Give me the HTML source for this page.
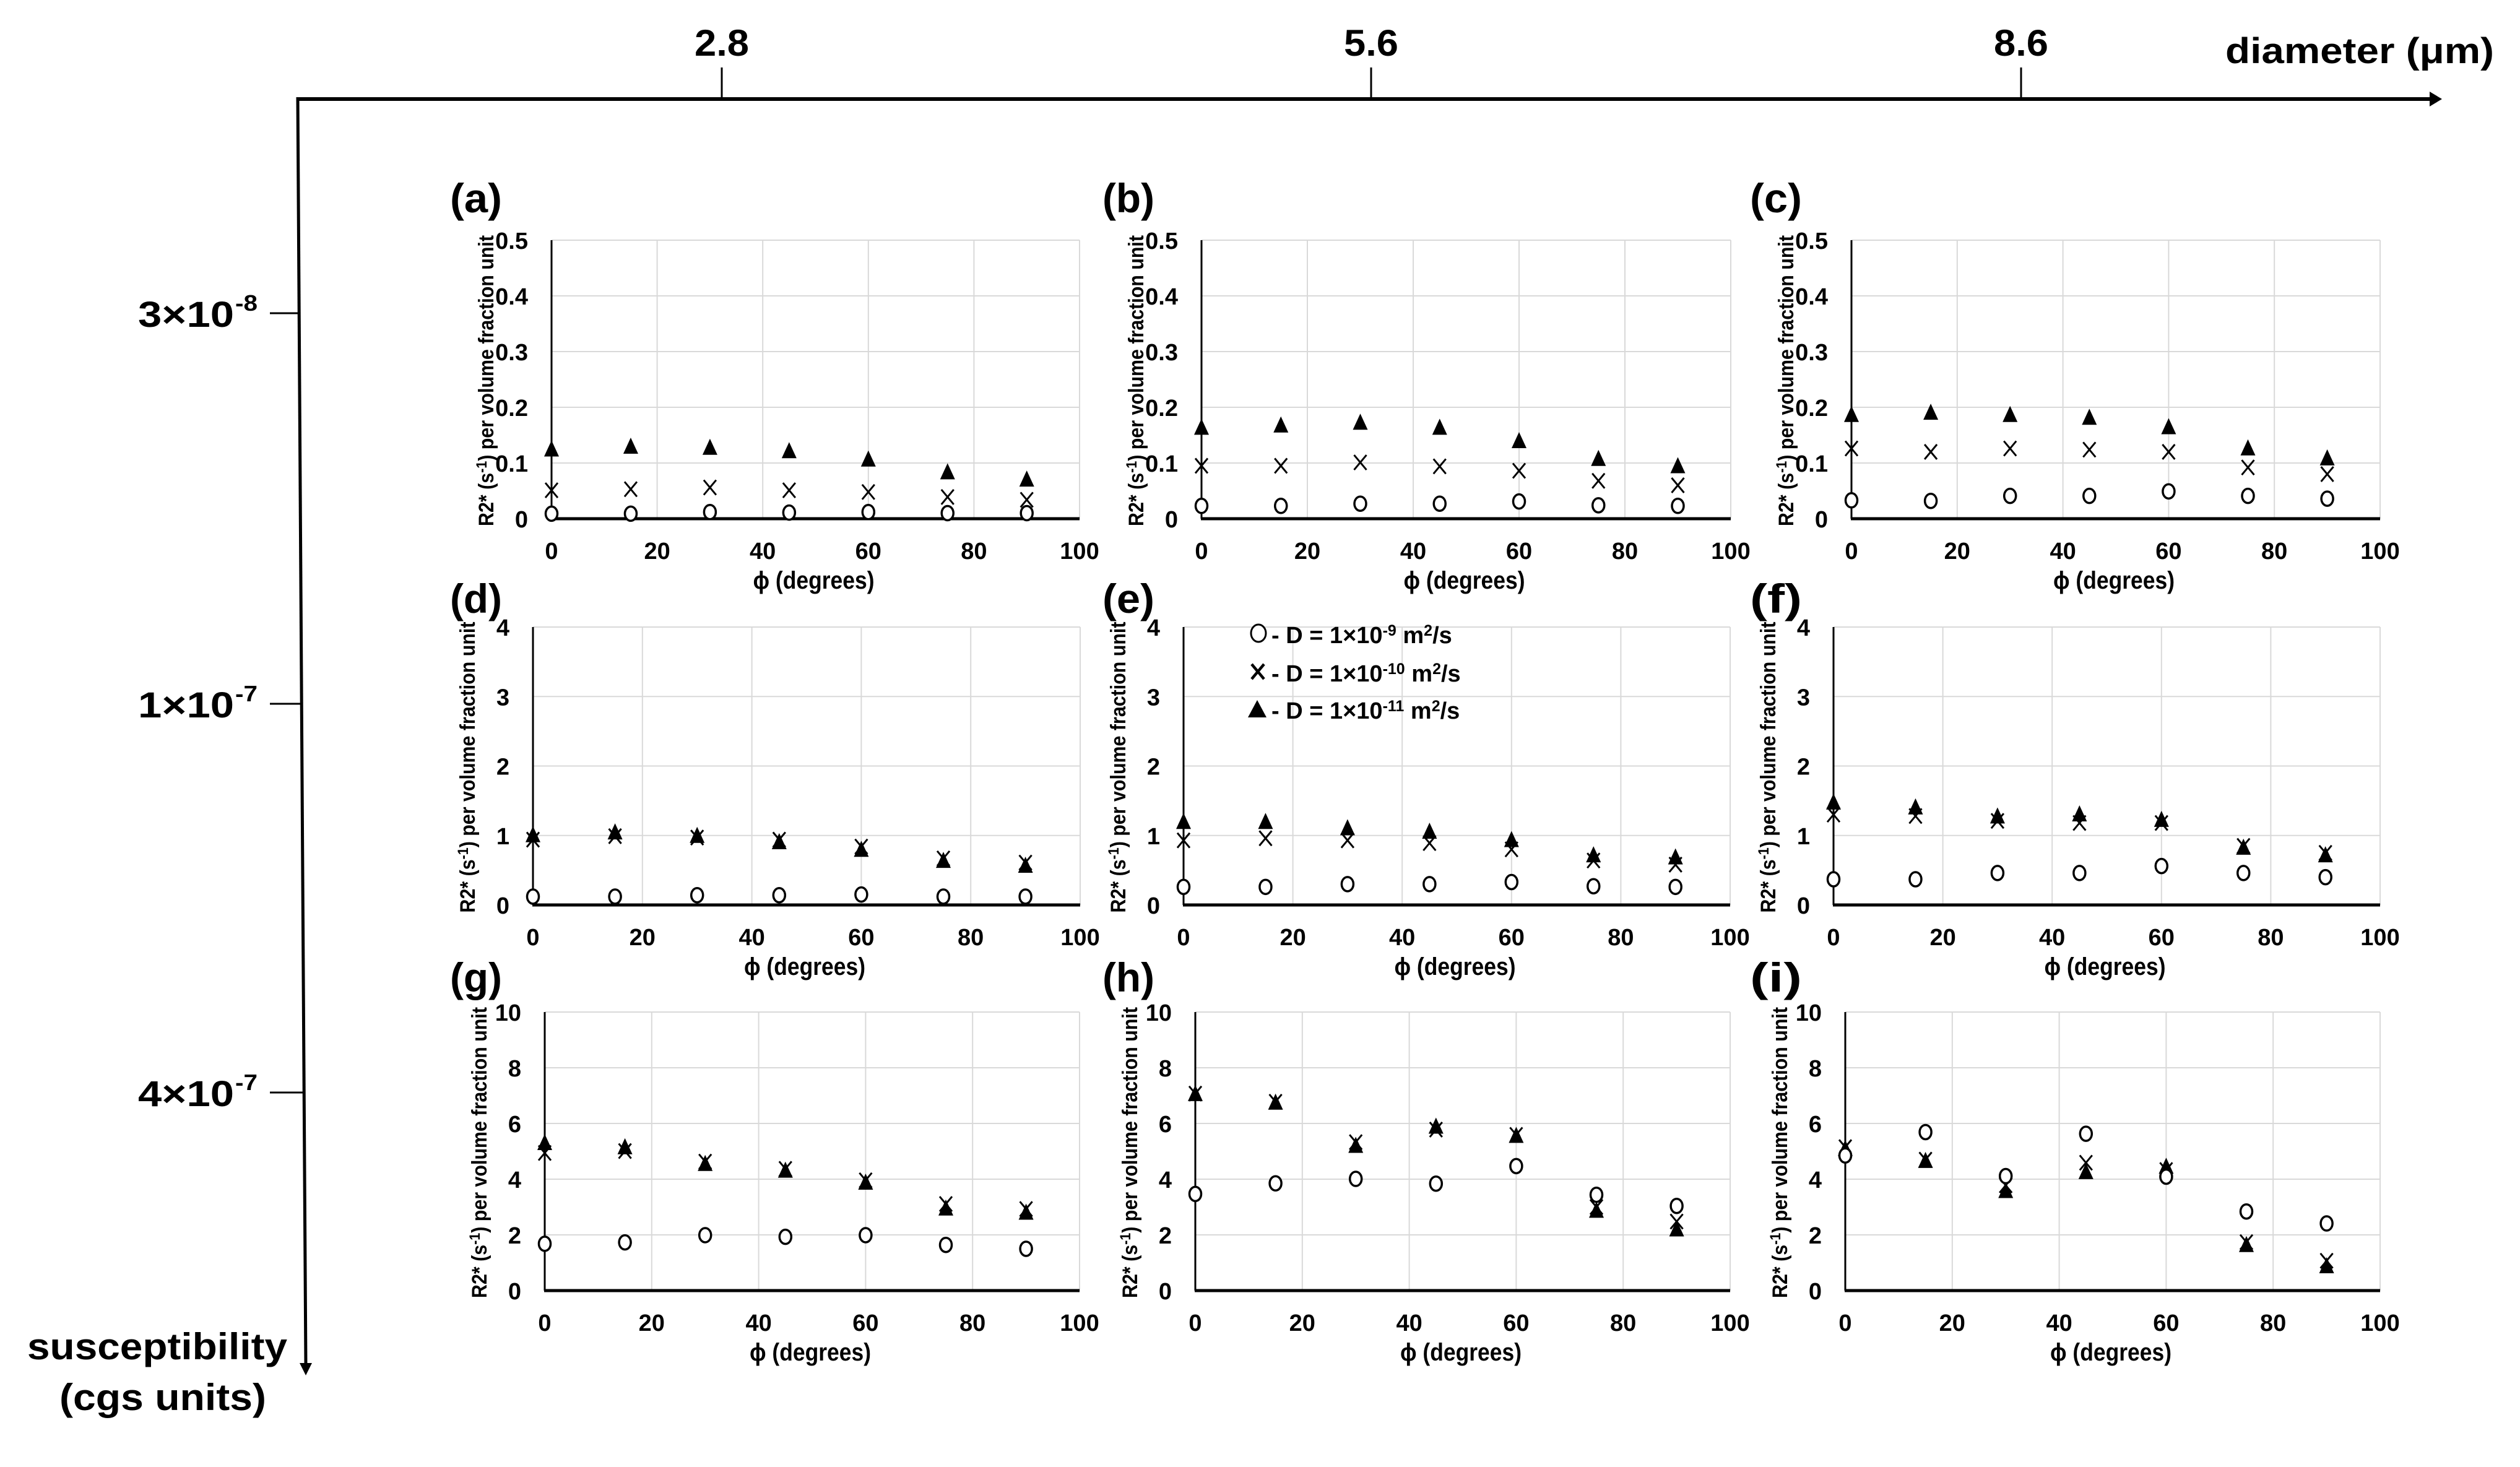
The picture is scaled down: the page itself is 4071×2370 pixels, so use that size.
<!DOCTYPE html>
<html><head><meta charset="utf-8"><title>R2* vs phi panels</title>
<style>
html,body{margin:0;padding:0;background:#fff;}
svg{display:block;font-family:"Liberation Sans",sans-serif;}
</style></head>
<body>
<svg id="fig" xmlns="http://www.w3.org/2000/svg" width="4071" height="2370" viewBox="0 0 4071 2370">
<rect x="0" y="0" width="4071" height="2370" fill="#fff"/>
<g id="outer"></g>
<g id="panels"></g>
</svg>
<script>
// ---- data ----
const phi = [0, 15, 30, 45, 60, 75, 90];
const diameterTicks = ["2.8", "5.6", "8.6"];
const suscTicks = ["3×10", "1×10", "4×10"];
const suscExp = ["-8", "-7", "-7"];
const yMaxes = [0.5, 0.5, 0.5, 4, 4, 4, 10, 10, 10];
const yTicks1 = ["0", "0.1", "0.2", "0.3", "0.4", "0.5"];
const yTicks2 = ["0", "1", "2", "3", "4"];
const yTicks3 = ["0", "2", "4", "6", "8", "10"];
const xTicks = [0, 20, 40, 60, 80, 100];
const panelLabels = ["(a)", "(b)", "(c)", "(d)", "(e)", "(f)", "(g)", "(h)", "(i)"];

const aCircle = [0.009, 0.009, 0.012, 0.011, 0.012, 0.010, 0.010];
const aCross  = [0.051, 0.053, 0.056, 0.051, 0.048, 0.039, 0.034];
const aTri    = [0.125, 0.130, 0.128, 0.122, 0.107, 0.084, 0.071];
const bCircle = [0.023, 0.023, 0.027, 0.027, 0.031, 0.024, 0.023];
const bCross  = [0.095, 0.095, 0.101, 0.094, 0.086, 0.068, 0.060];
const bTri    = [0.164, 0.168, 0.173, 0.164, 0.140, 0.108, 0.095];
const cCircle = [0.033, 0.032, 0.041, 0.041, 0.049, 0.041, 0.036];
const cCross  = [0.126, 0.120, 0.126, 0.124, 0.120, 0.092, 0.080];
const cTri    = [0.187, 0.191, 0.187, 0.182, 0.165, 0.127, 0.109];
const dCircle = [0.12, 0.12, 0.14, 0.14, 0.15, 0.12, 0.12];
const dCross  = [0.94, 0.99, 0.97, 0.94, 0.84, 0.67, 0.61];
const dTri    = [1.01, 1.05, 1.00, 0.91, 0.80, 0.64, 0.57];
const eCircle = [0.26, 0.26, 0.30, 0.30, 0.33, 0.27, 0.26];
const eCross  = [0.93, 0.96, 0.93, 0.89, 0.80, 0.64, 0.58];
const eTri    = [1.20, 1.20, 1.11, 1.06, 0.94, 0.72, 0.69];
const fCircle = [0.37, 0.37, 0.46, 0.46, 0.56, 0.46, 0.40];
const fCross  = [1.30, 1.28, 1.21, 1.18, 1.18, 0.85, 0.75];
const fTri    = [1.48, 1.41, 1.28, 1.31, 1.23, 0.83, 0.72];
const gCircle = [1.68, 1.73, 1.99, 1.93, 1.99, 1.64, 1.50];
const gCross  = [4.94, 5.01, 4.63, 4.37, 3.96, 3.11, 2.93];
const gTri    = [5.31, 5.16, 4.56, 4.32, 3.89, 2.96, 2.81];
const hCircle = [3.47, 3.85, 4.01, 3.84, 4.47, 3.44, 3.04];
const hCross  = [7.07, 6.78, 5.33, 5.78, 5.59, 3.00, 2.48];
const hTri    = [7.07, 6.76, 5.21, 5.90, 5.57, 2.88, 2.21];
const iCircle = [4.85, 5.69, 4.11, 5.63, 4.09, 2.84, 2.41];
const iCross  = [5.15, 4.70, 3.78, 4.59, 4.33, 1.74, 1.07];
const iTri    = [5.10, 4.67, 3.59, 4.27, 4.46, 1.65, 0.89];

const circles = [aCircle, bCircle, cCircle, dCircle, eCircle, fCircle, gCircle, hCircle, iCircle];
const crosses = [aCross, bCross, cCross, dCross, eCross, fCross, gCross, hCross, iCross];
const tris = [aTri, bTri, cTri, dTri, eTri, fTri, gTri, hTri, iTri];
const yTickSets = [yTicks1, yTicks1, yTicks1, yTicks2, yTicks2, yTicks2, yTicks3, yTicks3, yTicks3];

// ---- layout (pixel geometry) ----
const plotX0 = [891, 1941, 2991, 861, 1912, 2962, 880, 1931, 2981];
const plotX1 = [1744, 2796, 3845, 1745, 2795, 3845, 1744, 2795, 3845];
const rowTop = [388, 1013, 1635];
const rowBot = [838, 1462, 2085];
const labelX = [727, 1781, 2827];
const labelY = [319, 966, 1578];

const NS = "http://www.w3.org/2000/svg";
function mk(tag, attrs, parent) {
  const e = document.createElementNS(NS, tag);
  for (const k in attrs) e.setAttribute(k, attrs[k]);
  parent.appendChild(e);
  return e;
}

// ---- outer axes ----
const outer = document.getElementById("outer");
let ln = mk("line", {x1: 480, y1: 160, x2: 3930, y2: 160, stroke: "#000", "stroke-width": 6}, outer);


let ar = mk("polygon", {points: "3945,160 3925,148 3925,172", fill: "#000"}, outer);


const dTickX = [1166, 2215, 3265];
diameterTicks.forEach((t, i) => {
  const tk = mk("line", {x1: dTickX[i], y1: 109, x2: dTickX[i], y2: 160, stroke: "#000", "stroke-width": 3}, outer);
  
  
  const tx = mk("text", {x: dTickX[i], y: 90, "text-anchor": "middle", "font-size": 60, "font-weight": "bold", textLength: 88, lengthAdjust: "spacingAndGlyphs"}, outer);
  tx.textContent = t;
  
  
});
let dt = mk("text", {x: 3595, y: 102, "font-size": 58, "font-weight": "bold", textLength: 434, lengthAdjust: "spacingAndGlyphs"}, outer);
dt.textContent = "diameter (μm)";



let vl = mk("line", {x1: 481, y1: 157, x2: 494, y2: 2205, stroke: "#000", "stroke-width": 5}, outer);


let va = mk("polygon", {points: "494,2222 484,2202 504,2202", fill: "#000"}, outer);


const sTickY = [506, 1137, 1765];
suscTicks.forEach((t, i) => {
  const xa = 481 + (sTickY[i] - 157) * 13 / 2048;
  const tk = mk("line", {x1: 436, y1: sTickY[i], x2: xa, y2: sTickY[i], stroke: "#000", "stroke-width": 3}, outer);
  
  
  const tx = mk("text", {x: 223, y: sTickY[i] + 22, "font-size": 58, "font-weight": "bold", textLength: 155, lengthAdjust: "spacingAndGlyphs"}, outer);
  tx.textContent = t;
  
  
  const ex = mk("text", {x: 380, y: sTickY[i] - 4, "font-size": 36, "font-weight": "bold", textLength: 36, lengthAdjust: "spacingAndGlyphs"}, outer);
  ex.textContent = suscExp[i];
  
  
});
let st1 = mk("text", {x: 44, y: 2196, "font-size": 60, "font-weight": "bold", textLength: 420, lengthAdjust: "spacingAndGlyphs"}, outer);
st1.textContent = "susceptibility";


let st2 = mk("text", {x: 96, y: 2278, "font-size": 60, "font-weight": "bold", textLength: 334, lengthAdjust: "spacingAndGlyphs"}, outer);
st2.textContent = "(cgs units)";



// ---- panels ----
const panelsG = document.getElementById("panels");
for (let p = 0; p < 9; p++) {
  const r = Math.floor(p / 3), c = p % 3;
  const x0 = plotX0[p], x1 = plotX1[p], yT = rowTop[r], yB = rowBot[r], ymax = yMaxes[p];
  const sx = v => x0 + (v / 100) * (x1 - x0);
  const sy = v => yB - (v / ymax) * (yB - yT);
  const g = mk("g", {}, panelsG);
  
  

  const lab = mk("text", {x: labelX[c], y: labelY[r] + 24, "font-size": 66, "font-weight": "bold", textLength: 84, lengthAdjust: "spacingAndGlyphs"}, g);
  lab.textContent = panelLabels[p];
  
  

  const ticks = yTickSets[p];
  ticks.forEach(t => {
    const v = parseFloat(t);
    const yy = sy(v);
    if (v > 0) {
      const gl = mk("line", {x1: x0, y1: yy, x2: x1, y2: yy, stroke: "#d9d9d9", "stroke-width": 2}, g);
      
      
    }
    const tl = mk("text", {x: x0 - 38, y: yy + 14, "text-anchor": "end", "font-size": 38, "font-weight": "bold"}, g);
    tl.textContent = t;
    
    
  });
  xTicks.forEach(t => {
    const xx = sx(t);
    if (t > 0) {
      const gl = mk("line", {x1: xx, y1: yT, x2: xx, y2: yB, stroke: "#d9d9d9", "stroke-width": 2}, g);
      
      
    }
    const tl = mk("text", {x: xx, y: yB + 65, "text-anchor": "middle", "font-size": 38, "font-weight": "bold"}, g);
    tl.textContent = String(t);
    
    
  });
  const yAx = mk("line", {x1: x0, y1: yT, x2: x0, y2: yB, stroke: "#000", "stroke-width": 3}, g);
  
  
  const xAx = mk("line", {x1: x0 - 1, y1: yB, x2: x1, y2: yB, stroke: "#000", "stroke-width": 5}, g);
  
  

  const xt = mk("text", {x: (x0 + x1) / 2 - 3, y: yB + 113, "text-anchor": "middle", "font-size": 40, "font-weight": "bold", textLength: 196, lengthAdjust: "spacingAndGlyphs"}, g);
  xt.textContent = "ϕ (degrees)";
  
  
  const ycx = x0 - 94, ycy = (yT + yB) / 2 + 2;
  const yt = mk("text", {x: ycx, y: ycy, "text-anchor": "middle", "font-size": 34, "font-weight": "bold", textLength: 470, lengthAdjust: "spacingAndGlyphs", transform: "rotate(-90 " + ycx + " " + ycy + ")"}, g);
  yt.innerHTML = 'R2* (s<tspan dy="-11" font-size="24">-1</tspan><tspan dy="11">) per volume fraction unit</tspan>';
  
  

  phi.forEach((ph, i) => {
    const cx = sx(ph), cy = sy(tris[p][i]);
    const tr = mk("polygon", {points: (cx) + "," + (cy - 14) + " " + (cx - 12) + "," + (cy + 12) + " " + (cx + 12) + "," + (cy + 12), fill: "#000"}, g);
    
    
  });
  phi.forEach((ph, i) => {
    const cx = sx(ph), cy = sy(crosses[p][i]);
    const xg = mk("path", {d: "M" + (cx - 10) + "," + (cy - 12) + "L" + (cx + 10) + "," + (cy + 12) + "M" + (cx + 10) + "," + (cy - 12) + "L" + (cx - 10) + "," + (cy + 12), stroke: "#000", "stroke-width": 3, fill: "none"}, g);
    
    
  });
  phi.forEach((ph, i) => {
    const cx = sx(ph), cy = sy(circles[p][i]);
    const ci = mk("ellipse", {cx: cx, cy: cy, rx: 9.5, ry: 11.5, fill: "#fff", stroke: "#000", "stroke-width": 3.5}, g);
    
    
  });
}

// ---- legend in panel (e) ----
const leg = mk("g", {}, panelsG);


const legY = [1027, 1089, 1149];
const legExp = ["-9", "-10", "-11"];
legY.forEach((yy, i) => {
  let sym;
  if (i === 0) sym = mk("ellipse", {cx: 2033, cy: yy - 4, rx: 12, ry: 14, fill: "#fff", stroke: "#000", "stroke-width": 3}, leg);
  else if (i === 1) sym = mk("path", {d: "M2022," + (yy - 16) + "L2042," + (yy + 8) + "M2042," + (yy - 16) + "L2022," + (yy + 8), stroke: "#000", "stroke-width": 4.5, fill: "none"}, leg);
  else sym = mk("polygon", {points: "2031," + (yy - 18) + " 2016," + (yy + 10) + " 2046," + (yy + 10), fill: "#000"}, leg);
  
  
  const t = mk("text", {x: 2054, y: yy + 12, "font-size": 38, "font-weight": "bold"}, leg);
  t.innerHTML = '- D = 1×10<tspan dy="-12" font-size="25">' + legExp[i] + '</tspan><tspan dy="12"> m</tspan><tspan dy="-12" font-size="25">2</tspan><tspan dy="12">/s</tspan>';
  
  
});
</script>
</body></html>
